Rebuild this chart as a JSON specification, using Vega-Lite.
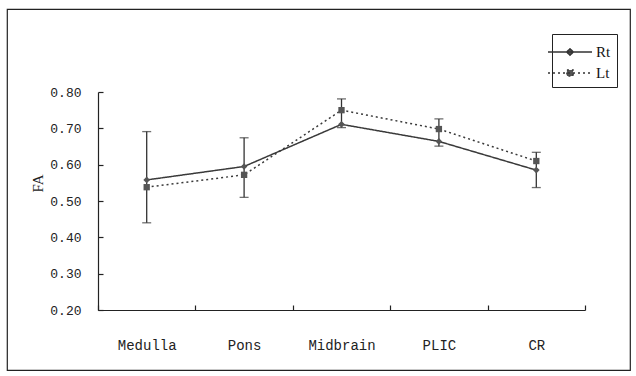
{
  "$schema": "https://vega.github.io/schema/vega-lite/v6.json",
  "width": 623,
  "height": 361,
  "autosize": {"type": "none"},
  "padding": {"left": 7, "top": 9, "right": 6, "bottom": 6},
  "background": "white",
  "config": {
    "view": {"stroke": "#222", "strokeWidth": 1.2},
    "font": "Liberation Mono"
  },
  "datasets": {
    "fa": [
      {"region": "Medulla", "series": "Rt", "value": 0.558},
      {"region": "Pons", "series": "Rt", "value": 0.595},
      {"region": "Midbrain", "series": "Rt", "value": 0.711},
      {"region": "PLIC", "series": "Rt", "value": 0.664},
      {"region": "CR", "series": "Rt", "value": 0.585},
      {"region": "Medulla", "series": "Lt", "value": 0.538},
      {"region": "Pons", "series": "Lt", "value": 0.572},
      {"region": "Midbrain", "series": "Lt", "value": 0.750},
      {"region": "PLIC", "series": "Lt", "value": 0.698},
      {"region": "CR", "series": "Lt", "value": 0.610}
    ],
    "err": [
      {"region": "Medulla", "lo": 0.440, "hi": 0.691},
      {"region": "Pons", "lo": 0.510, "hi": 0.674},
      {"region": "Midbrain", "lo": 0.702, "hi": 0.781},
      {"region": "PLIC", "lo": 0.651, "hi": 0.726},
      {"region": "CR", "lo": 0.537, "hi": 0.634}
    ]
  },
  "encoding": {
    "x": {
      "field": "region", "type": "nominal",
      "sort": ["Medulla", "Pons", "Midbrain", "PLIC", "CR"],
      "scale": {"type": "band", "range": [91, 578], "paddingInner": 0, "paddingOuter": 0},
      "axis": {
        "title": null, "offset": -60, "labelAngle": 0,
        "tickBand": "extent", "tickSize": -5, "tickColor": "#222", "domainColor": "#222",
        "domainWidth": 1.2, "tickWidth": 1.2,
        "labelFont": "Liberation Mono", "labelFontSize": 14, "labelColor": "#222",
        "labelPadding": 33
      }
    }
  },
  "layer": [
    {
      "data": {"name": "err"},
      "mark": {"type": "rule", "color": "#333", "strokeWidth": 1.3},
      "encoding": {
        "y": {"field": "lo", "type": "quantitative"},
        "y2": {"field": "hi"}
      }
    },
    {
      "data": {"name": "err"},
      "mark": {"type": "tick", "color": "#333", "size": 9, "thickness": 1.3},
      "encoding": {"y": {"field": "lo", "type": "quantitative"}}
    },
    {
      "data": {"name": "err"},
      "mark": {"type": "tick", "color": "#333", "size": 9, "thickness": 1.3},
      "encoding": {"y": {"field": "hi", "type": "quantitative"}}
    },
    {
      "data": {"name": "fa"},
      "mark": {"type": "line", "color": "#3a3a3a", "strokeWidth": 1.5},
      "encoding": {
        "y": {
          "field": "value", "type": "quantitative",
          "scale": {"domain": [0.2, 0.8], "range": [301, 83], "nice": false, "zero": false},
          "axis": {
            "title": "FA", "offset": -91, "values": [0.2, 0.3, 0.4, 0.5, 0.6, 0.7, 0.8],
            "format": ".2f", "grid": false, "tickSize": -5, "tickColor": "#222",
            "domainColor": "#222", "domainWidth": 1.2, "tickWidth": 1.2,
            "labelFont": "Liberation Mono", "labelFontSize": 13, "labelColor": "#222",
            "labelPadding": 22,
            "titleFont": "Liberation Serif", "titleFontSize": 15, "titleFontWeight": "normal",
            "titleColor": "#222", "titleAngle": -90, "titleX": -61, "titleY": 174,
            "titleAlign": "center", "titleBaseline": "middle"
          }
        },
        "detail": {"field": "series"},
        "strokeDash": {
          "field": "series", "type": "nominal",
          "scale": {"domain": ["Rt", "Lt"], "range": [[1, 0], [2, 3]]},
          "legend": {
            "orient": "none", "legendX": 545, "legendY": 25, "title": null,
            "strokeColor": "#222", "padding": 6, "symbolSize": 484,
            "symbolStrokeWidth": 1.4, "symbolStrokeColor": "#333",
            "labelFont": "Liberation Serif", "labelFontSize": 15, "labelColor": "#111",
            "labelOffset": 14, "rowPadding": 1,
            "encode": {
              "symbols": {
                "update": {
                  "shape": {"signal": "datum.value === 'Rt' ? 'M-2,0H2M0,-0.3L0.3,0L0,0.3L-0.3,0Z' : 'M-2,0H2M-0.28,-0.28H0.28V0.28H-0.28Z'"},
                  "fill": {"value": "#555"},
                  "stroke": {"value": "#333"}
                }
              }
            }
          }
        }
      }
    },
    {
      "data": {"name": "fa"},
      "transform": [{"filter": "datum.series === 'Rt'"}],
      "mark": {"type": "point", "filled": true, "opacity": 1, "color": "#555", "shape": "diamond", "size": 45},
      "encoding": {
        "y": {"field": "value", "type": "quantitative"}
      }
    },
    {
      "data": {"name": "fa"},
      "transform": [{"filter": "datum.series === 'Lt'"}],
      "mark": {"type": "point", "filled": true, "opacity": 1, "color": "#555", "shape": "square", "size": 40},
      "encoding": {
        "y": {"field": "value", "type": "quantitative"}
      }
    }
  ]
}
